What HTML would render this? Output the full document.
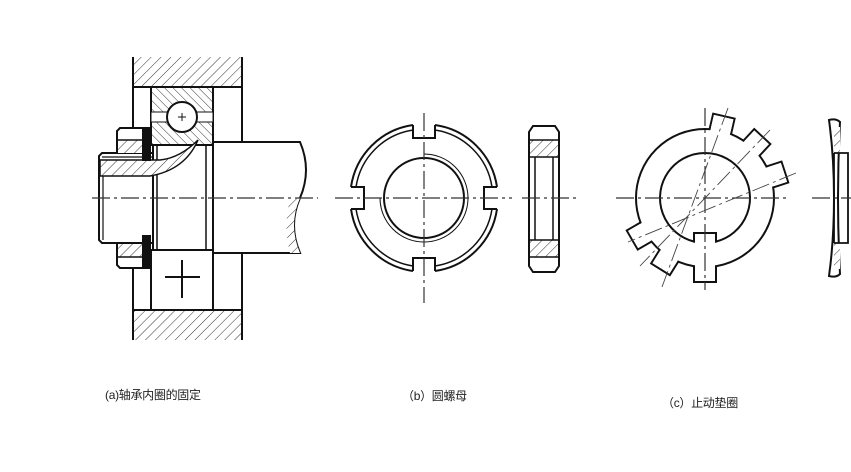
<!DOCTYPE html>
<html><head><meta charset="utf-8"><style>
html,body{margin:0;padding:0;background:#fff;}
svg{display:block}
text{font-family:"Liberation Sans","Noto Sans CJK SC",sans-serif;font-size:12px;fill:#222;letter-spacing:-0.3px}
</style></head><body>
<svg width="851" height="472" viewBox="0 0 851 472" xmlns="http://www.w3.org/2000/svg">
<defs>
<pattern id="h" patternUnits="userSpaceOnUse" width="7" height="7" patternTransform="rotate(45)">
<rect width="7" height="7" fill="#fff"/><line x1="0" y1="0" x2="0" y2="7" stroke="#333" stroke-width="1"/></pattern>
<pattern id="h2" patternUnits="userSpaceOnUse" width="6" height="6" patternTransform="rotate(-45)">
<rect width="6" height="6" fill="#fff"/><line x1="0" y1="0" x2="0" y2="6" stroke="#333" stroke-width="1"/></pattern>
</defs>
<g fill="none" stroke="#111" stroke-width="2">
<!-- Panel a -->
<rect x="133" y="57" width="109" height="30" fill="url(#h)" stroke="none"/>
<rect x="133" y="310" width="109" height="30" fill="url(#h)" stroke="none"/>
<line x1="133" y1="57" x2="133" y2="340"/><line x1="242" y1="57" x2="242" y2="142"/><line x1="242" y1="253" x2="242" y2="340"/>
<line x1="133" y1="87" x2="242" y2="87"/><line x1="133" y1="310" x2="242" y2="310"/>
<rect x="151" y="87" width="62" height="58" fill="url(#h2)"/>
<rect x="151" y="112" width="62" height="10" fill="#fff" stroke-width="1"/>
<circle cx="182" cy="117" r="15" fill="#fff"/>
<line x1="178" y1="117" x2="186" y2="117" stroke-width="1"/><line x1="182" y1="113" x2="182" y2="121" stroke-width="1"/>
<rect x="151" y="250" width="62" height="60" fill="#fff"/>
<line x1="165" y1="277" x2="200" y2="277"/><line x1="182" y1="260" x2="182" y2="298"/>
<path d="M213 142 H300 Q312 170 300 198 Q288 225 300 253 H213 Z" fill="#fff"/>
<path d="M300 198 Q288 225 300 253 H290 Q283 225 290 200 Z" fill="url(#h)" stroke="none"/>
<rect x="153" y="145" width="60" height="105" fill="#fff"/>
<line x1="157" y1="145" x2="157" y2="250" stroke-width="1.5"/>
<line x1="206" y1="145" x2="206" y2="250" stroke-width="1.5"/>
<path d="M102 153 H153 V243 H102 L99 240 V156 Z" fill="#fff"/>
<path d="M100 160 H160 Q180 158 198 140 Q185 170 150 176 H100 Z" fill="url(#h)" stroke-width="1.5"/>
<line x1="102" y1="157" x2="153" y2="157" stroke-width="1.2"/>
<line x1="103" y1="176" x2="103" y2="240" stroke-width="1.2"/>
<path d="M120 128 H143 V153 H117 V131 Z" fill="#fff"/>
<rect x="118" y="140" width="25" height="13" fill="url(#h)" stroke="none"/>
<line x1="117" y1="140" x2="143" y2="140" stroke-width="1.5"/>
<rect x="143" y="128" width="7" height="32" fill="#111"/>
<path d="M117 243 H143 V268 H120 L117 265 Z" fill="#fff"/>
<rect x="118" y="244" width="25" height="13" fill="url(#h)" stroke="none"/>
<line x1="117" y1="257" x2="143" y2="257" stroke-width="1.5"/>
<rect x="143" y="236" width="7" height="32" fill="#111"/>
<!-- Panel b -->
<path d="M413 125 A73 73 0 0 0 351 187 M351 209 A73 73 0 0 0 413 271 M435 271 A73 73 0 0 0 497 209 M497 187 A73 73 0 0 0 435 125" />
<path d="M413 130 A68 68 0 0 0 356 187 M356 209 A68 68 0 0 0 413 266 M435 266 A68 68 0 0 0 492 209 M492 187 A68 68 0 0 0 435 130" stroke-width="1.5"/>
<path d="M413 125 V138 H435 V125 M413 271 V258 H435 V271 M351 187 H364 V209 H351 M497 187 H484 V209 H497"/>
<circle cx="424" cy="198" r="40"/>
<path d="M424 154 A44 44 0 1 1 380 198" stroke-width="1"/>
<rect x="529" y="140" width="30" height="17" fill="url(#h)" stroke="none"/>
<rect x="529" y="240" width="30" height="17" fill="url(#h)" stroke="none"/>
<path d="M533 126 H555 L559 132 V266 L555 272 H533 L529 266 V132 Z"/>
<line x1="529" y1="140" x2="559" y2="140" stroke-width="1.5"/><line x1="529" y1="157" x2="559" y2="157" stroke-width="1.5"/>
<line x1="529" y1="240" x2="559" y2="240" stroke-width="1.5"/><line x1="529" y1="257" x2="559" y2="257" stroke-width="1.5"/>
<line x1="535" y1="157" x2="535" y2="240" stroke-width="1.5"/><line x1="553" y1="157" x2="553" y2="240" stroke-width="1.5"/>
<!-- Panel c -->
<g transform="translate(705 198)">
<rect x="62" y="-11" width="22" height="22" transform="rotate(-77)" fill="#fff"/>
<rect x="62" y="-11" width="22" height="22" transform="rotate(-47)" fill="#fff"/>
<rect x="62" y="-11" width="22" height="22" transform="rotate(-18)" fill="#fff"/>
<rect x="62" y="-11" width="22" height="22" transform="rotate(150)" fill="#fff"/>
<rect x="62" y="-11" width="22" height="22" transform="rotate(122)" fill="#fff"/>
<rect x="62" y="-11" width="22" height="22" transform="rotate(90)" fill="#fff"/>
<circle r="69" fill="#fff"/>
<g fill="#fff" stroke="none">
<rect x="64" y="-10" width="19" height="20" transform="rotate(-77)"/>
<rect x="64" y="-10" width="19" height="20" transform="rotate(-47)"/>
<rect x="64" y="-10" width="19" height="20" transform="rotate(-18)"/>
<rect x="64" y="-10" width="19" height="20" transform="rotate(150)"/>
<rect x="64" y="-10" width="19" height="20" transform="rotate(122)"/>
<rect x="64" y="-10" width="19" height="20" transform="rotate(90)"/>
</g>
<path d="M11 43.6 A45 45 0 1 0 -11 43.6 V35 H11 Z"/>
</g>
<path d="M829 120 Q836 118 840 122 Q838 160 838 198 Q838 236 840 274 Q836 278 829 276 Q834 240 834 198 Q834 156 829 120 Z" fill="#fff"/>
<rect x="834" y="127" width="6" height="26" fill="url(#h)" stroke="none"/>
<rect x="834" y="243" width="6" height="26" fill="url(#h)" stroke="none"/>
<path d="M834 153 H848 V243 H834" stroke-width="1.8"/>
<line x1="834" y1="153" x2="834" y2="243" stroke-width="1.8"/>
</g>
<g stroke="#333" stroke-width="1.2" stroke-dasharray="18 4 3 4" fill="none">
<line x1="92" y1="198" x2="318" y2="198"/>
<line x1="335" y1="198" x2="512" y2="198"/>
<line x1="522" y1="198" x2="578" y2="198"/>
<line x1="424" y1="113" x2="424" y2="303"/>
<line x1="616" y1="198" x2="788" y2="198"/>
<line x1="705" y1="108" x2="705" y2="290"/>
<line x1="812" y1="198" x2="851" y2="198"/>
</g>
<g stroke="#444" stroke-width="0.9" stroke-dasharray="18 4 3 4" fill="none">
<line x1="728" y1="108" x2="662" y2="287"/>
<line x1="770" y1="130" x2="640" y2="266"/>
<line x1="796" y1="173" x2="628" y2="242"/>
</g>
<text x="105" y="399">(a)轴承内圈的固定</text>
<text x="402" y="400">（b）圆螺母</text>
<text x="662" y="407">（c）止动垫圈</text>
</svg>
</body></html>
